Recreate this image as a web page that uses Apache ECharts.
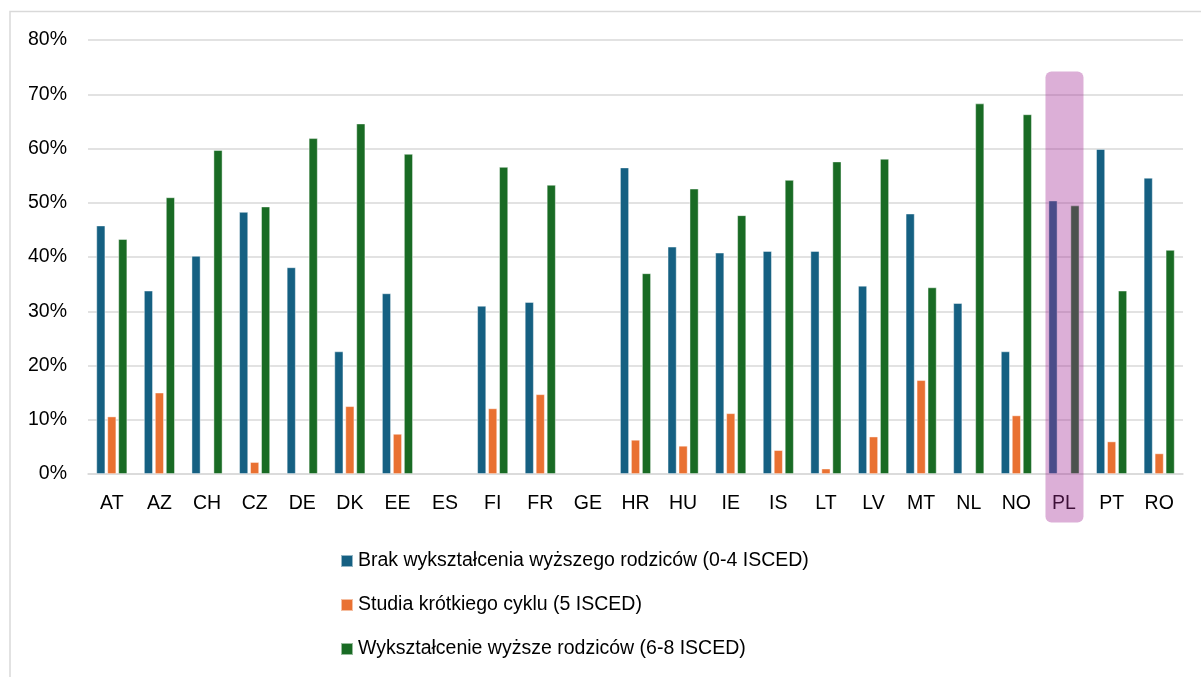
<!DOCTYPE html>
<html>
<head>
<meta charset="utf-8">
<script src="https://cdn.jsdelivr.net/npm/echarts@6/dist/echarts.min.js"></script>
<style>
html,body{margin:0;padding:0;background:#fff;}
#chart{width:1201px;height:677px;}
</style>
</head>
<body>
<div id="chart"></div>
<script>
const categories = ['AT','AZ','CH','CZ','DE','DK','EE','ES','FI','FR','GE','HR','HU','IE','IS','LT','LV','MT','NL','NO','PL','PT','RO'];
const seriesNames = ['Brak wykształcenia wyższego rodziców (0-4 ISCED)','Studia krótkiego cyklu (5 ISCED)','Wykształcenie wyższe rodziców (6-8 ISCED)'];
const noHigher = [45.8,33.8,40.2,48.3,38.1,22.6,33.3,null,31.0,31.7,null,56.5,41.9,40.8,41.1,41.1,34.7,48.0,31.5,22.6,50.4,59.9,54.6];
const shortCycle = [10.6,15.0,null,2.2,null,12.5,7.4,null,12.1,14.7,null,6.3,5.2,11.2,4.4,1.0,6.9,17.3,null,10.8,null,6.0,3.8];
const higher = [43.3,51.0,59.7,49.3,61.9,64.6,59.0,null,56.6,53.3,null,37.0,52.6,47.7,54.2,57.6,58.1,34.4,68.3,66.3,49.5,33.8,41.3];
const highlighted = 'PL';
const yTicks = [0,10,20,30,40,50,60,70,80];

const colors = ['#156082','#E97132','#196B24'];
const FONT = '"Liberation Sans", Arial, sans-serif';
const FS = 19.5;

const chart = echarts.init(document.getElementById('chart'), null, {renderer:'canvas'});
function bar(name, data, color){
  return {
    name, type:'bar', data, barWidth:9, barGap:'22%',
    itemStyle:{color, borderColor:'rgba(255,255,255,0.55)', borderWidth:0.8},
    emphasis:{disabled:true}
  };
}
const option = {
  animation:false,
  textStyle:{fontFamily:FONT},
  grid:{left:88, right:18, top:40, bottom:203, containLabel:false},
  legend:{
    orient:'vertical', left:335, top:546,
    itemWidth:12, itemHeight:12, itemGap:24,
    icon:'rect',
    textStyle:{fontFamily:FONT, fontSize:FS, color:'#000'},
    data:seriesNames
  },
  xAxis:{
    type:'category', data:categories,
    axisLine:{show:true, lineStyle:{color:'#d9d9d9', width:1.5}},
    axisTick:{show:false},
    axisLabel:{fontFamily:FONT, fontSize:FS, color:'#000', margin:20, interval:0}
  },
  yAxis:{
    type:'value', min:yTicks[0], max:yTicks[yTicks.length-1], interval:10,
    axisLine:{show:false}, axisTick:{show:false},
    splitLine:{lineStyle:{color:'#d9d9d9', width:1.5}},
    axisLabel:{fontFamily:FONT, fontSize:FS, color:'#000', margin:21, formatter:'{value}%'}
  },
  series:[bar(seriesNames[0], noHigher, colors[0]), bar(seriesNames[1], shortCycle, colors[1]), bar(seriesNames[2], higher, colors[2])]
};
chart.setOption(option);

function drawOverlay(){
  const cx = chart.convertToPixel({xAxisIndex:0}, highlighted);
  const top = chart.convertToPixel({yAxisIndex:0}, 74.2);
  const base = chart.convertToPixel({yAxisIndex:0}, 0);
  const w = 38;
  chart.setOption({
    graphic:[
      {type:'rect', silent:true, z:100, shape:{x:cx-w/2+0.5, y:top, width:w, height:(base-top)+48.5, r:6},
       style:{fill:'rgba(162,42,148,0.375)'}},
      {type:'rect', silent:true, z:-1, shape:{x:10, y:11.5, width:1300, height:800},
       style:{fill:'none', stroke:'#d9d9d9', lineWidth:1.5}}
    ]
  });
}
drawOverlay();
</script>
</body>
</html>
